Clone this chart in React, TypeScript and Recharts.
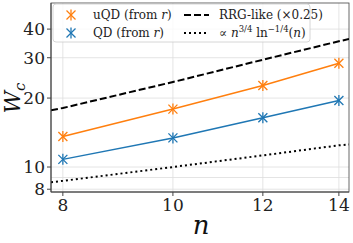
import React from 'react';
import { LineChart, Line, XAxis, YAxis, CartesianGrid } from 'recharts';

// measured points
const nValues = [8, 10, 12, 14];
const uqdValues = [13.6, 17.9, 22.7, 28.4];
const qdValues = [10.8, 13.4, 16.4, 19.5];

// guide curves span the full x range
const nGuide = [7.81, 8, 10, 12, 14, 14.29];
const rrgValues = [17.7, 18.1, 23.5, 29.4, 35.4, 36.2];
const scalingValues = [8.58, 8.7, 10.0, 11.24, 12.44, 12.55];

const xTicks = [8, 10, 12, 14];
const yTicks = [8, 10, 20, 30, 40];
const yGrid = [8, 9, 10, 20, 30, 40];

const ORANGE = '#ff7f0e';
const BLUE = '#1f77b4';
const FONT = "'DejaVu Serif', 'Liberation Serif', serif";

const toRows = (xs: number[], ys: number[]) => xs.map((n, i) => ({ n, y: ys[i] }));

function Star({ cx, cy, color }: { cx: number; cy: number; color: string }) {
  const r = 4.5;
  return (
    <g stroke={color} strokeWidth={1.3} fill="none">
      <line x1={cx - r} y1={cy - r} x2={cx + r} y2={cy + r} />
      <line x1={cx - r} y1={cy + r} x2={cx + r} y2={cy - r} />
      <line x1={cx} y1={cy - 5.5} x2={cx} y2={cy + 5.5} />
    </g>
  );
}

const starDot = (color: string) => (props: any) =>
  <Star key={`${color}-${props.index}`} cx={props.cx} cy={props.cy} color={color} />;

function Overlay() {
  return (
    <svg width={353} height={243} style={{ position: 'absolute', left: 0, top: 0, pointerEvents: 'none', fontFamily: FONT }}>
      <rect x={53} y={4} width={257} height={38} rx={3} fill="#fff" fillOpacity={0.8} stroke="#cccccc" strokeWidth={0.8} />
      <Star cx={71} cy={15} color={ORANGE} />
      <Star cx={71} cy={33} color={BLUE} />
      <text x={93} y={19} fontSize={12} fill="#222">uQD (from <tspan fontStyle="italic">r</tspan>)</text>
      <text x={93} y={37} fontSize={12} fill="#222">QD (from <tspan fontStyle="italic">r</tspan>)</text>
      <line x1={184} y1={15} x2={209} y2={15} stroke="#000" strokeWidth={2} strokeDasharray="7 3" />
      <line x1={184} y1={33} x2={209} y2={33} stroke="#000" strokeWidth={2} strokeDasharray="2 3" />
      <text x={219} y={19} fontSize={12} fill="#222">RRG-like (×0.25)</text>
      <text x={219} y={37} fontSize={12} fill="#222">
        ∝ <tspan fontStyle="italic">n</tspan>
        <tspan fontSize={8.5} dy={-5}>3/4</tspan>
        <tspan dy={5}> ln</tspan>
        <tspan fontSize={8.5} dy={-5}>−1/4</tspan>
        <tspan dy={5}>(</tspan><tspan fontStyle="italic">n</tspan>)
      </text>
      <text x={201} y={234} fontSize={26} fontStyle="italic" textAnchor="middle" fill="#111">n</text>
      <text transform="rotate(-90 20 98)" x={20} y={98} fontSize={22} fontStyle="italic" textAnchor="middle" fill="#111">
        W<tspan fontSize={15} dy={5}>c</tspan>
      </text>
    </svg>
  );
}

export default function App() {
  return (
    <div style={{ position: 'absolute', left: 0, top: 0, width: 353, height: 243, background: '#fff', fontFamily: FONT }}>
      <LineChart width={353} height={243} margin={{ top: 3, right: 4, left: 0, bottom: 0 }} style={{ fontFamily: FONT }}>
        <CartesianGrid stroke="#dddddd" strokeWidth={0.8} horizontalValues={yGrid} verticalValues={xTicks} />
        <XAxis
          dataKey="n"
          type="number"
          scale="log"
          domain={[7.81, 14.29]}
          allowDataOverflow
          ticks={xTicks}
          interval={0}
          height={51}
          stroke="#444"
          tickSize={4}
          tick={{ fontSize: 17, fill: '#222', fontFamily: FONT }}
          tickMargin={3}
        />
        <YAxis
          type="number"
          scale="log"
          domain={[7.78, 52]}
          allowDataOverflow
          ticks={yTicks}
          interval={0}
          width={51}
          stroke="#444"
          tickSize={4}
          tick={{ fontSize: 17, fill: '#222', fontFamily: FONT }}
          tickMargin={2}
        />
        <Line data={toRows(nGuide, scalingValues)} dataKey="y" stroke="#000" strokeWidth={2}
          strokeDasharray="2 3" dot={false} isAnimationActive={false} />
        <Line data={toRows(nGuide, rrgValues)} dataKey="y" stroke="#000" strokeWidth={2}
          strokeDasharray="7 3" dot={false} isAnimationActive={false} />
        <Line data={toRows(nValues, qdValues)} dataKey="y" stroke={BLUE} strokeWidth={1.5}
          dot={starDot(BLUE)} isAnimationActive={false} />
        <Line data={toRows(nValues, uqdValues)} dataKey="y" stroke={ORANGE} strokeWidth={1.5}
          dot={starDot(ORANGE)} isAnimationActive={false} />
        <rect x={51} y={3} width={298} height={189} fill="none" stroke="#444" strokeWidth={0.8} />
      </LineChart>
      <Overlay />
    </div>
  );
}
